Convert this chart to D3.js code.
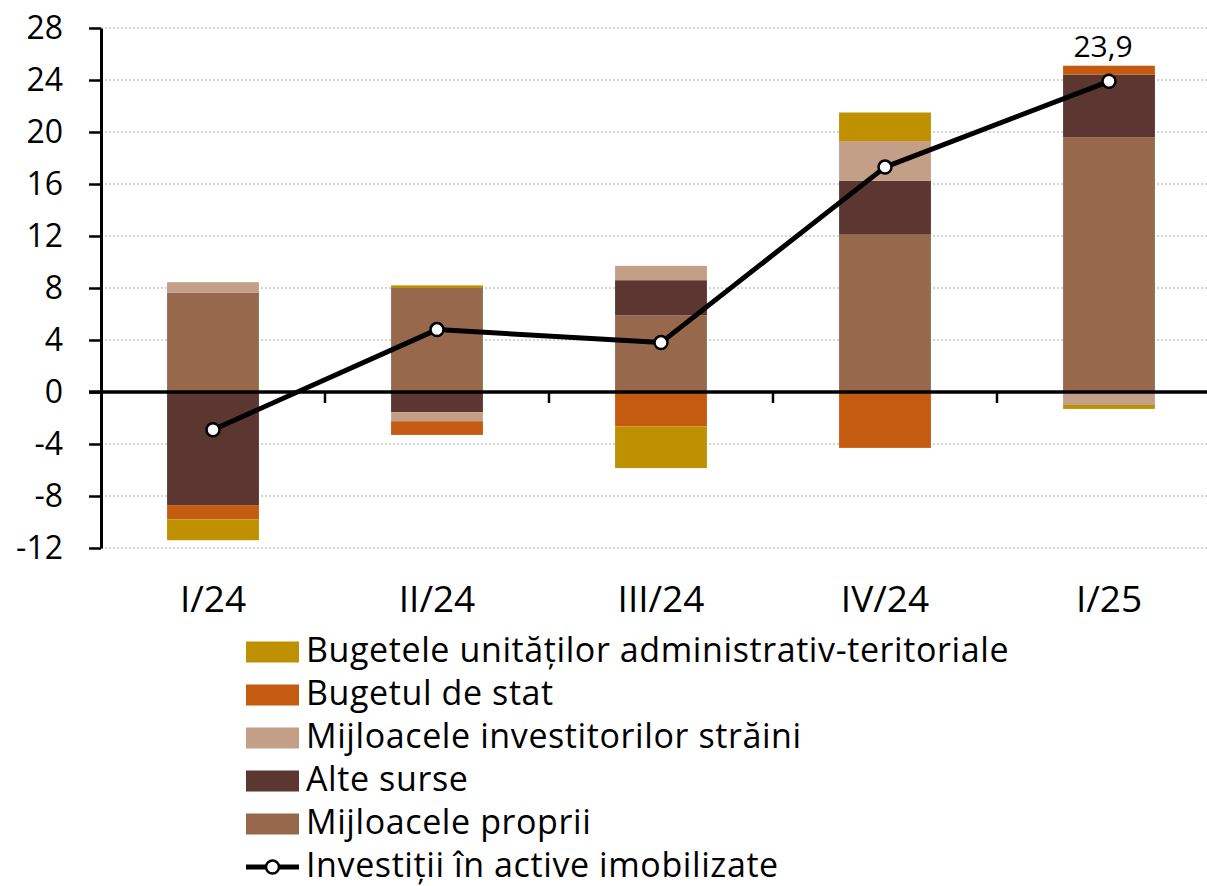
<!DOCTYPE html>
<html>
<head>
    <meta charset="utf-8">
    <title>Investiții în active imobilizate</title>
    <script src="https://d3js.org/d3.v7.min.js"></script>
    <style>
        body { margin: 0; background: #fff; }
        svg { display: block; font-family: "Open Sans", sans-serif; }
    </style>
</head>
<body>
    <svg width="1207" height="886"></svg>

    <script>
        // quarters on the x axis
        var quarters = ["I/24", "II/24", "III/24", "IV/24", "I/25"];

        // contributions (percentage points), one array per source
        var uat      = [-1.6,  0.2, -3.2,  2.2, -0.3];   // Bugetele unităților administrativ-teritoriale
        var stat     = [-1.1, -1.05, -2.65, -4.3, 0.7];  // Bugetul de stat
        var straini  = [ 0.8, -0.7,  1.1,  3.05, -1.0];  // Mijloacele investitorilor străini
        var alte     = [-8.7, -1.55, 2.7,  4.15, 4.8];   // Alte surse
        var proprii  = [ 7.65, 8.0,  5.9, 12.1, 19.6];   // Mijloacele proprii

        // total growth line
        var total = [-2.9, 4.8, 3.8, 17.3, 23.9];

        var yTicks = [-12, -8, -4, 0, 4, 8, 12, 16, 20, 24, 28];

        var series = [
            { key: "proprii", name: "Mijloacele proprii", values: proprii, color: "#98684d" },
            { key: "alte", name: "Alte surse", values: alte, color: "#5c3630" },
            { key: "straini", name: "Mijloacele investitorilor străini", values: straini, color: "#c49f88" },
            { key: "stat", name: "Bugetul de stat", values: stat, color: "#c55a11" },
            { key: "uat", name: "Bugetele unităților administrativ-teritoriale", values: uat, color: "#bf9000" }
        ];
        var lineName = "Investiții în active imobilizate";

        var rows = quarters.map(function (q, i) {
            var r = { q: q };
            series.forEach(function (s) { r[s.key] = s.values[i]; });
            return r;
        });

        var svg = d3.select("svg");

        var x = d3.scaleBand().domain(quarters).range([101, 1221])
            .paddingInner(0.59).paddingOuter(0.295);
        var y = d3.scaleLinear().domain([-12, 28]).range([548, 28]);

        // gridlines
        svg.append("g").selectAll("line")
            .data(yTicks.filter(function (d) { return d !== 0; }))
            .enter().append("line")
            .attr("x1", 101).attr("x2", 1207)
            .attr("y1", function (d) { return y(d); })
            .attr("y2", function (d) { return y(d); })
            .attr("stroke", "#c8c8c8")
            .attr("stroke-width", 1.5)
            .attr("stroke-dasharray", "2,2");

        // stacked bars
        var stack = d3.stack()
            .keys(series.map(function (s) { return s.key; }))
            .offset(d3.stackOffsetDiverging);
        var stacked = stack(rows);

        svg.append("g").selectAll("g")
            .data(stacked)
            .enter().append("g")
            .attr("fill", function (d, i) { return series[i].color; })
            .selectAll("rect")
            .data(function (d) { return d; })
            .enter().append("rect")
            .attr("x", function (d) { return x(d.data.q); })
            .attr("width", x.bandwidth())
            .attr("y", function (d) { return y(Math.max(d[0], d[1])); })
            .attr("height", function (d) { return Math.abs(y(d[0]) - y(d[1])); });

        // y axis
        var yAxis = svg.append("g")
            .attr("transform", "translate(101,0)")
            .call(d3.axisLeft(y).tickValues(yTicks).tickSize(12).tickSizeOuter(0)
                .tickPadding(26).tickFormat(function (d) { return String(d); }));
        yAxis.select(".domain").attr("stroke-width", 3);
        yAxis.selectAll(".tick line").attr("stroke-width", 2.5);
        yAxis.selectAll(".tick text")
            .attr("font-size", 32)
            .attr("font-family", "Open Sans")
            .attr("fill", "#000");

        // zero line
        svg.append("line")
            .attr("x1", 89).attr("x2", 1207)
            .attr("y1", y(0)).attr("y2", y(0))
            .attr("stroke", "#000").attr("stroke-width", 3.5);

        // x ticks between categories
        var gap = (x.step() - x.bandwidth()) / 2;
        svg.append("g").selectAll("line")
            .data(quarters.slice(1))
            .enter().append("line")
            .attr("x1", function (d) { return x(d) - gap; })
            .attr("x2", function (d) { return x(d) - gap; })
            .attr("y1", y(0)).attr("y2", y(0) + 11)
            .attr("stroke", "#000").attr("stroke-width", 2.5);

        // category labels
        svg.append("g").selectAll("text")
            .data(quarters)
            .enter().append("text")
            .attr("x", function (d) { return x(d) + x.bandwidth() / 2; })
            .attr("y", 612)
            .attr("text-anchor", "middle")
            .attr("font-size", 37)
            .text(function (d) { return d; });

        // line
        var line = d3.line()
            .x(function (d, i) { return x(quarters[i]) + x.bandwidth() / 2; })
            .y(function (d) { return y(d); });

        svg.append("path")
            .datum(total)
            .attr("d", line)
            .attr("fill", "none")
            .attr("stroke", "#000")
            .attr("stroke-width", 5)
            .attr("stroke-linejoin", "round");

        svg.append("g").selectAll("circle")
            .data(total)
            .enter().append("circle")
            .attr("cx", function (d, i) { return x(quarters[i]) + x.bandwidth() / 2; })
            .attr("cy", function (d) { return y(d); })
            .attr("r", 6.5)
            .attr("fill", "#fff")
            .attr("stroke", "#000")
            .attr("stroke-width", 2.5);

        // last value label
        var last = total.length - 1;
        svg.append("text")
            .attr("x", x(quarters[last]) + x.bandwidth() / 2 - 6)
            .attr("y", 57)
            .attr("text-anchor", "middle")
            .attr("font-size", 30)
            .text(String(total[last]).replace(".", ","));

        // legend
        var legendItems = series.slice().reverse();
        var lg = svg.append("g").attr("transform", "translate(246,652)");
        var rowH = 43;

        legendItems.forEach(function (s, i) {
            lg.append("rect")
                .attr("x", 0).attr("y", i * rowH - 10.5)
                .attr("width", 53).attr("height", 21)
                .attr("fill", s.color);
            lg.append("text")
                .attr("x", 60).attr("y", i * rowH + 10)
                .attr("font-size", 34)
                .attr("letter-spacing", 0.6)
                .text(s.name);
        });

        var li = legendItems.length;
        lg.append("line")
            .attr("x1", 0).attr("x2", 53)
            .attr("y1", li * rowH).attr("y2", li * rowH)
            .attr("stroke", "#000").attr("stroke-width", 5);
        lg.append("circle")
            .attr("cx", 26.5).attr("cy", li * rowH).attr("r", 6.5)
            .attr("fill", "#fff").attr("stroke", "#000").attr("stroke-width", 2.5);
        lg.append("text")
            .attr("x", 60).attr("y", li * rowH + 10)
            .attr("font-size", 34)
            .attr("letter-spacing", 0.6)
            .text(lineName);
    </script>
</body>
</html>
